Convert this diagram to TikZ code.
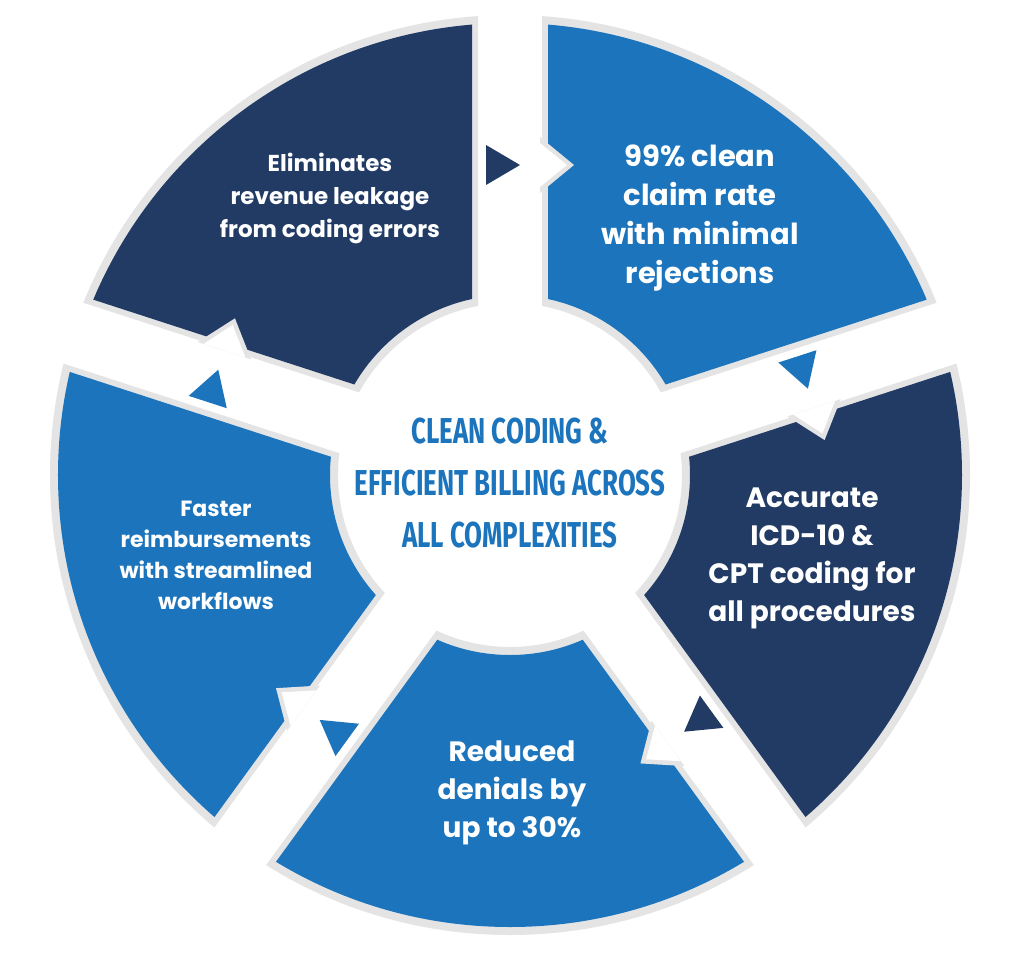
\documentclass[tikz,border=0pt]{standalone}
\usepackage{fontspec}
\setmainfont{Poppins}[BoldFont={Poppins Bold}]
\newfontfamily\condfont[FakeStretch=0.72]{Fira Sans}
\definecolor{cblue}{HTML}{1C75BC}
\definecolor{cnavy}{HTML}{213B65}
\definecolor{crim}{HTML}{E4E4E4}
\begin{document}
\begin{tikzpicture}[x=1pt,y=1pt,
  seg/.style 2 args={font=\bfseries\fontsize{#1}{#2}\selectfont,text=white,align=center},
  ctr/.style={font=\condfont\bfseries\fontsize{36}{52}\selectfont,text=cblue,align=center}]
\useasboundingbox[fill=white] (-510,-500) rectangle (514,475);
\foreach \a/\c in {90/cblue,18/cnavy,-54/cblue,-126/cblue,162/cnavy}{
  \pgfmathsetmacro\b{\a-72}
  \begin{scope}
    \clip[rotate=\a-90] (32,-700) rectangle (700,700);
    \clip[rotate=\b-90] (-32,-700) rectangle (-700,700);
    \fill[crim,even odd rule] (0,0) circle (460) (0,0) circle (172);
  \end{scope}
  \begin{scope}
    \clip[rotate=\a-90] (38,-700) rectangle (700,700);
    \clip[rotate=\b-90] (-38,-700) rectangle (-700,700);
    \fill[\c,even odd rule] (0,0) circle (452) (0,0) circle (180);
  \end{scope}
}
\foreach \a/\c in {90/cnavy,18/cblue,-54/cnavy,-126/cblue,162/cblue}{
  \begin{scope}[rotate=\a-90]
    \fill[crim] (30,338) -- (64,310) -- (30,282) -- cycle;
    \fill[white] (30,332) -- (57,310) -- (30,288) -- cycle;
    \fill[\c] (-24,290) -- (10,310) -- (-24,330) -- cycle;
  \end{scope}
}
\node[seg={23}{33}] (t1) at (-180,277) {Eliminates\\revenue leakage\\from coding errors};
\node[seg={29}{39}] (t2) at (190,257) {99\% clean\\claim rate\\with minimal\\rejections};
\node[seg={28}{38}] (t3) at (302,-83) {Accurate\\ICD-10 \&\\CPT coding for\\all procedures};
\node[seg={28}{38}] (t4) at (2,-318) {Reduced\\denials by\\up to 30\%};
\node[seg={22}{31}] (t5) at (-294,-80) {Faster\\reimbursements\\with streamlined\\workflows};
\node[ctr] (c) at (0,-8) {CLEAN CODING \&\\EFFICIENT BILLING ACROSS\\ALL COMPLEXITIES};
\end{tikzpicture}
\end{document}
